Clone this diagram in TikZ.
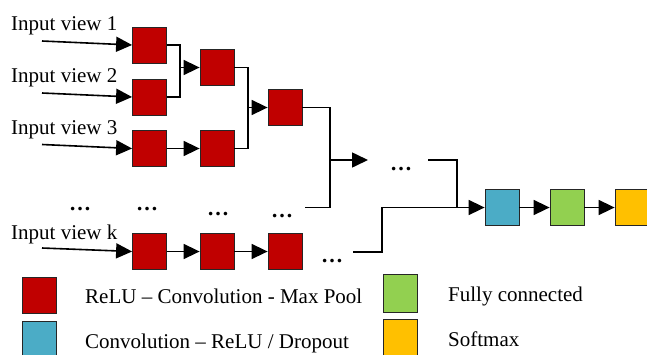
\documentclass[tikz,border=0pt]{standalone}
\usepackage{fontspec}
\setmainfont{Liberation Serif}
\usetikzlibrary{arrows.meta}
\definecolor{cred}{HTML}{C00000}
\definecolor{cblue}{HTML}{4BACC6}
\definecolor{cgreen}{HTML}{92D050}
\definecolor{corange}{HTML}{FFC000}
\tikzset{
  blk/.style={draw=black!85, line width=0.8pt, minimum width=34pt, minimum height=36pt, inner sep=0pt},
  redblk/.style={blk, fill=cred},
  conn/.style={line width=1.6pt},
  arr/.style={conn, -{Triangle[length=16pt,width=15pt]}},
  lbl/.style={font=\fontsize{21}{24}\selectfont, inner sep=0pt, anchor=base west},
  dotlbl/.style={font=\fontsize{22}{24}\selectfont\bfseries, inner sep=0pt, anchor=base}
}
\begin{document}
\begin{tikzpicture}[x=1pt,y=-1pt]
\useasboundingbox (0,0) rectangle (647,354);
% input labels
\node[lbl] (t1) at (11,30) {Input view 1};
\node[lbl] (t2) at (11,82) {Input view 2};
\node[lbl] (t3) at (11,134) {Input view 3};
\node[lbl] (tk) at (11,239) {Input view k};
% red blocks
\node[redblk] (c11) at (149.5,45) {};
\node[redblk] (c12) at (149.5,97) {};
\node[redblk] (c13) at (149.5,148.5) {};
\node[redblk] (c1k) at (149.5,251.5) {};
\node[redblk] (c21) at (217,67.5) {};
\node[redblk] (c23) at (217,148.5) {};
\node[redblk] (c2k) at (217,251.5) {};
\node[redblk] (c3) at (285,107.5) {};
\node[redblk] (c3k) at (285,251.5) {};
% final blocks
\node[blk, fill=cblue] (bl) at (502,207.5) {};
\node[blk, fill=cgreen] (gr) at (567,207.5) {};
\node[blk, fill=corange] (or) at (632,207.5) {};
% dots
\node[dotlbl] (d1) at (80,210.5) {…};
\node[dotlbl] (d2) at (147,210.5) {…};
\node[dotlbl] (d3) at (218,215.5) {…};
\node[dotlbl] (d4) at (282,217.5) {…};
\node[dotlbl] (d5) at (332,262) {…};
\node[dotlbl] (dm) at (401,170) {…};
% coordinates
\coordinate (i1) at (42,41);
\coordinate (i2) at (42,93);
\coordinate (i3) at (42,144.5);
\coordinate (ik) at (42,248);
\coordinate (j1) at (180,67.5);
\coordinate (j2) at (248,107.5);
\coordinate (j3) at (330,160);
\coordinate (j3b) at (330,207.5);
\coordinate (e4) at (305,207.5);
\coordinate (ma) at (368,160);
\coordinate (m1) at (428,160);
\coordinate (j4) at (457,207.5);
\coordinate (k1) at (353,252);
\coordinate (k2) at (382,207.5);
% input arrows
\draw[arr] (i1) -- (c11.west);
\draw[arr] (i2) -- (c12.west);
\draw[arr] (i3) -- (c13.west);
\draw[arr] (ik) -- (c1k.west);
% merges
\draw[conn] (c11.east) -| (j1) |- (c12.east);
\draw[arr] (j1) -- (c21.west);
\draw[arr] (c13) -- (c23);
\draw[conn] (c21.east) -| (j2) |- (c23.east);
\draw[arr] (j2) -- (c3.west);
\draw[arr] (c1k) -- (c2k);
\draw[arr] (c2k) -- (c3k);
\draw[conn] (c3.east) -| (j3b) -- (e4);
\draw[arr] (j3) -- (ma);
\draw[conn] (m1) -| (j4);
\draw[arr] (k1) -| (k2) -- (bl.west);
\draw[arr] (bl) -- (gr);
\draw[arr] (gr) -- (or);
% legend
\node[redblk, minimum height=36pt] (lr) at (39,295) {};
\node[blk, fill=cblue] (lb) at (39,339) {};
\node[blk, fill=cgreen, minimum height=38pt] (lg) at (400,293) {};
\node[blk, fill=corange, minimum height=38pt] (lo) at (400,338) {};
\node[lbl] (tr) at (85,303) {ReLU – Convolution - Max Pool};
\node[lbl] (tb) at (85,348) {Convolution – ReLU / Dropout};
\node[lbl] (tg) at (448,301) {Fully connected};
\node[lbl] (to) at (448,346) {Softmax};
\end{tikzpicture}
\end{document}
